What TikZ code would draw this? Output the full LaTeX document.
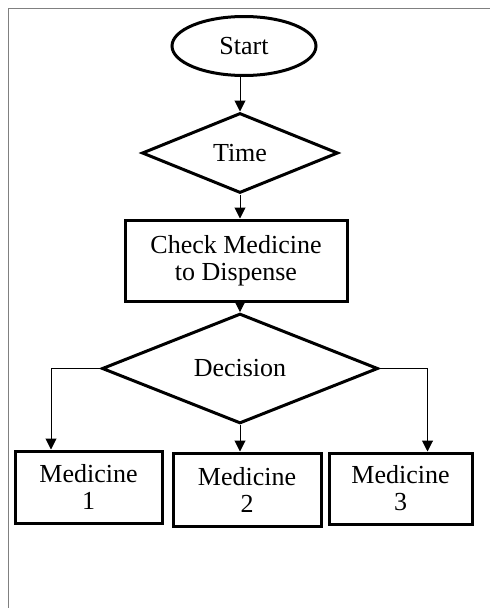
\documentclass[tikz,border=0pt]{standalone}
\usepackage{fontspec}
\setmainfont{Liberation Serif}
\usetikzlibrary{shapes.geometric,arrows.meta,calc}
\begin{document}
\begin{tikzpicture}[x=1pt,y=-1pt,
  shapeline/.style={draw=black,line width=3pt,inner sep=0pt,align=center,
    font=\fontsize{26}{27}\selectfont},
  oval/.style={shapeline,ellipse,minimum width=144pt,minimum height=59pt},
  decide/.style={shapeline,diamond},
  procbox/.style={shapeline,rectangle},
  arr/.style={draw=black,line width=1pt,-{Triangle[length=11pt,width=11pt]}},
  frameline/.style={draw=black!50,line width=1pt}]
\useasboundingbox (0,0) rectangle (490,608);
\fill[white] (0,0) rectangle (490,608);
\draw[frameline] (8,608) -- (8,8) -- (490,8);
\node[oval] (start) at (244,46) {Start};
\node[decide,minimum width=196pt,minimum height=80pt] (time) at (240,153) {Time};
\node[procbox,minimum width=222pt,minimum height=81pt] (chk) at (236,260.5) {Check Medicine\\to Dispense};
\node[decide,minimum width=276pt,minimum height=87pt] (dec) at (240,368.5) {Decision};
\node[procbox,minimum width=147pt,minimum height=72pt] (m1) at (88.5,487) {Medicine\\1};
\node[procbox,minimum width=148pt,minimum height=73pt] (m2) at (247,489.5) {Medicine\\2};
\node[procbox,minimum width=143pt,minimum height=71pt] (m3) at (400.5,488.5) {Medicine\\3};
\draw[arr] (time.north |- start.south) -- (time.north);
\draw[arr] (time.south) -- (time.south |- chk.north);
\draw[arr] (dec.north |- chk.south) -- (dec.north);
\draw[arr] (dec.west) -| ($(m1.north west)!0.25!(m1.north east)$);
\draw[arr] (dec.south) -- (dec.south |- m2.north);
\draw[arr] (dec.east) -| ($(m3.north west)!0.685!(m3.north east)$);
\end{tikzpicture}
\end{document}
